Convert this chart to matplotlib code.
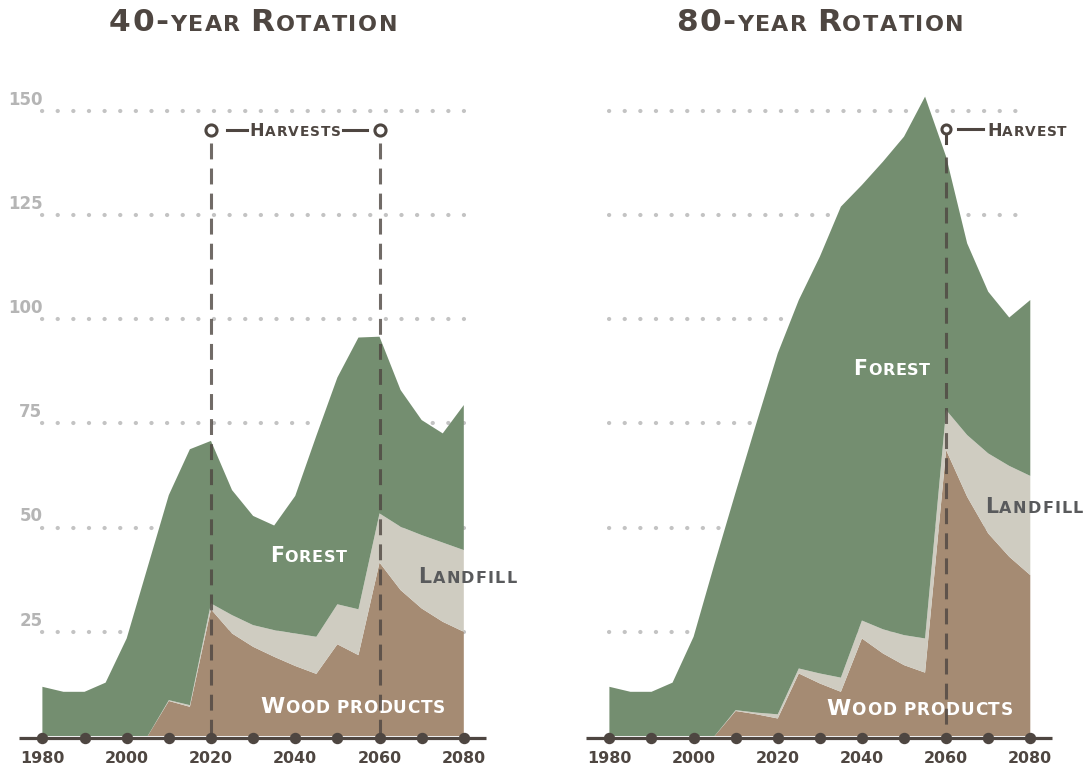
import matplotlib
matplotlib.use('Agg')
import matplotlib.pyplot as plt
from matplotlib.font_manager import FontProperties
from matplotlib.transforms import IdentityTransform

years = list(range(1980, 2085, 5))

# 40-year rotation, layer thickness (stacked bottom -> top)
wood_40 = [0, 0, 0, 0, 0, 0, 8.4, 7.0, 30.4, 24.6, 21.4, 19.0, 16.8, 14.9, 22.0, 19.4, 41.6, 35.0, 30.6, 27.4, 25.0]
landfill_40 = [0, 0, 0, 0, 0, 0, 0.2, 0.4, 1.4, 4.4, 5.2, 6.4, 7.8, 8.9, 9.6, 11.0, 11.8, 15.2, 17.6, 19.0, 19.6]
forest_40 = [11.8, 10.6, 10.6, 12.8, 23.4, 40.6, 49.2, 61.4, 39.0, 30.0, 26.2, 25.1, 33.0, 48.2, 54.4, 65.2, 42.4, 32.8, 27.6, 26.2, 34.8]

# 80-year rotation
wood_80 = [0, 0, 0, 0, 0, 0, 6.0, 5.2, 4.2, 15.0, 12.6, 10.6, 23.4, 19.8, 17.0, 15.2, 68.6, 57.4, 48.6, 43.0, 38.6]
landfill_80 = [0, 0, 0, 0, 0, 0, 0.2, 0.4, 1.0, 1.2, 2.4, 3.4, 4.3, 5.8, 7.2, 8.2, 9.6, 14.8, 19.2, 21.8, 23.8]
forest_80 = [11.8, 10.6, 10.6, 12.8, 23.8, 41.4, 52.3, 69.7, 86.6, 88.4, 100.0, 113.0, 104.5, 112.2, 119.6, 130.0, 60.8, 46.0, 38.8, 35.6, 42.2]

harvests_40 = [2020, 2060]
harvests_80 = [2060]

x_ticks = [1980, 1990, 2000, 2010, 2020, 2030, 2040, 2050, 2060, 2070, 2080]
x_labels = [1980, 2000, 2020, 2040, 2060, 2080]
y_grid = [25, 50, 75, 100, 125, 150]

GREEN = '#748e70'
LAND = '#cfccc1'
WOOD = '#a58b73'
DARK = '#4e4641'
GRID = '#c3c3c3'
YTICK = '#b5b5b5'
LANDTXT = '#595a5c'
FONT = 'DejaVu Sans'


def smallcaps(ax, x, y, s, big, small, color, width=None, ha='left', zorder=3):
    # fake small caps: lowercase letters drawn as smaller capitals
    renderer = ax.figure.canvas.get_renderer()
    props = {sz: FontProperties(family=FONT, weight='bold', size=sz) for sz in (big, small)}
    chars = []
    for ch in s:
        if ch == ' ':
            chars.append((ch, small, small * 100 / 72 * 0.3))
            continue
        sz = small if ch.islower() else big
        w = renderer.get_text_width_height_descent(ch.upper(), props[sz], ismath=False)[0]
        chars.append((ch.upper(), sz, w))
    natural = sum(c[2] for c in chars)
    track = 0 if width is None else (width - natural) / (len(chars) - 1)
    total = natural + track * (len(chars) - 1)
    x0, y0 = ax.transData.transform((x, y))
    if ha == 'center':
        x0 -= total / 2
    for ch, sz, w in chars:
        if ch != ' ':
            ax.text(x0, y0, ch, transform=IdentityTransform(), fontproperties=props[sz],
                    color=color, ha='left', va='baseline', zorder=zorder)
        x0 += w + track


fig = plt.figure(figsize=(10.84, 7.69), dpi=100)
ax1 = fig.add_axes([0, 0, 540 / 1084, 1])
ax2 = fig.add_axes([540 / 1084, 0, 544 / 1084, 1])
ax1.set_xlim(1969.94, 2098.08)
ax2.set_xlim(1963.51, 2092.76)

panels = [
    (ax1, wood_40, landfill_40, forest_40, harvests_40, '40-year Rotation'),
    (ax2, wood_80, landfill_80, forest_80, harvests_80, '80-year Rotation'),
]

for ax, wood, landfill, forest, harvests, title in panels:
    ax.set_ylim(-7.92, 176.58)
    ax.axis('off')

    for v in y_grid:
        ax.plot([1980, 2080], [v, v], color=GRID, lw=3.0, ls=(0, (0.05, 3.7)),
                dash_capstyle='round', zorder=1)

    ax.stackplot(years, wood, landfill, forest, colors=[WOOD, LAND, GREEN],
                 linewidth=0, zorder=2)

    # axis line with dots every decade
    ax.plot([1974.5, 2085.2], [-0.55, -0.55], color=DARK, lw=2.3, zorder=5,
            solid_capstyle='butt', clip_on=False)
    ax.plot(x_ticks, [-0.55] * len(x_ticks), 'o', ms=7.2, color=DARK, zorder=6)
    for yr in x_labels:
        ax.text(yr, -6.55, str(yr), ha='center', va='baseline', fontsize=11.4,
                fontweight='bold', color=DARK, family=FONT)

    smallcaps(ax, 2030, 169.2, title, 22.5, 16, DARK, width=288, ha='center')

    totals = [w + l + f for w, l, f in zip(wood, landfill, forest)]
    for yr in harvests:
        top = 142.3 if len(harvests) > 1 else totals[years.index(yr)]
        ax.plot([yr, yr], [top, 0], color=DARK, lw=2.2, ls=(0, (5.2, 3.0)),
                alpha=0.8, zorder=4)

# harvest markers, 40-year
for yr in harvests_40:
    ax1.plot(yr, 145.3, 'o', ms=8, mfc='white', mec=DARK, mew=2.2, zorder=7)
ax1.plot([2023.7, 2028.5], [145.3, 145.3], color=DARK, lw=2.2, zorder=6)
ax1.plot([2051.3, 2057.0], [145.3, 145.3], color=DARK, lw=2.2, zorder=6)
smallcaps(ax1, 2040, 144.0, 'Harvests', 12.5, 9.9, DARK, width=91.7, ha='center')

# harvest marker, 80-year
ax2.plot([2060, 2060], [145.6, 142.3], color=DARK, lw=2.2, zorder=6)
ax2.plot(harvests_80[0], 145.6, 'o', ms=6.5, mfc='white', mec=DARK, mew=2.2, zorder=7)
ax2.plot([2062.8, 2068.8], [145.6, 145.6], color=DARK, lw=2.2, zorder=6)
smallcaps(ax2, 2069.7, 144.0, 'Harvest', 12.5, 9.9, DARK, width=79.7)

# y tick labels
for v in y_grid:
    ax1.text(1980, v + 1.5, str(v), ha='right', va='baseline', fontsize=12,
             fontweight='bold', color=YTICK, family=FONT)

# layer labels
smallcaps(ax1, 2043.1, 41.8, 'Forest', 14.8, 11.5, 'white', width=76.7, ha='center')
smallcaps(ax1, 2069.2, 36.6, 'Landfill', 14.8, 11.5, LANDTXT, width=98.4)
smallcaps(ax1, 2053.6, 5.4, 'Wood products', 15.8, 12.2, 'white', width=185, ha='center')
smallcaps(ax2, 2047.1, 86.6, 'Forest', 14.8, 11.5, 'white', width=76.7, ha='center')
smallcaps(ax2, 2069.2, 53.4, 'Landfill', 14.8, 11.5, LANDTXT, width=98.4)
smallcaps(ax2, 2053.7, 5.0, 'Wood products', 15.8, 12.2, 'white', width=186.3, ha='center')

fig.savefig('out.png', dpi=100)
